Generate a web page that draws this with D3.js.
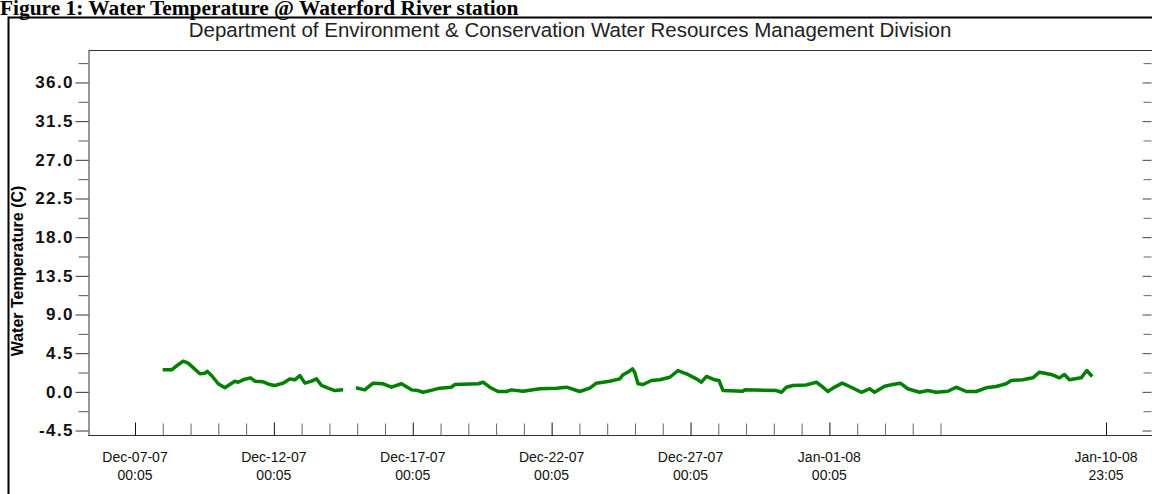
<!DOCTYPE html>
<html>
<head>
<meta charset="utf-8">
<script src="https://cdn.jsdelivr.net/npm/d3@7"></script>
<style>
  body { margin: 0; background: #fff; }
  svg { display: block; }
</style>
</head>
<body>
<script>
// readings taken off the logger plot (time, water temp in C), null = gap in record
const times = [
  "2007-12-08 00:00","2007-12-08 07:40","2007-12-08 10:30","2007-12-08 17:40","2007-12-08 22:00",
  "2007-12-09 08:10","2007-12-09 12:30","2007-12-09 14:30","2007-12-09 18:15","2007-12-10 00:00",
  "2007-12-10 05:45","2007-12-10 10:00","2007-12-10 14:20","2007-12-10 17:10","2007-12-10 21:30",
  "2007-12-11 03:55","2007-12-11 07:40","2007-12-11 14:50","2007-12-11 20:35","2007-12-12 00:55",
  "2007-12-12 08:05","2007-12-12 13:50","2007-12-12 18:10","2007-12-12 22:30","2007-12-13 02:50",
  "2007-12-13 08:35","2007-12-13 12:55","2007-12-13 17:15","2007-12-13 22:55","2007-12-14 04:45",
  "2007-12-14 11:55","2007-12-14 17:00","2007-12-14 22:55","2007-12-15 06:40","2007-12-15 09:30",
  "2007-12-15 13:50","2007-12-15 22:25","2007-12-16 05:40","2007-12-16 14:20","2007-12-16 23:00",
  "2007-12-17 04:40","2007-12-17 09:00","2007-12-17 17:40","2007-12-17 23:25","2007-12-18 09:30",
  "2007-12-18 12:20","2007-12-19 08:30","2007-12-19 12:50","2007-12-19 18:35","2007-12-20 01:45",
  "2007-12-20 09:00","2007-12-20 13:20","2007-12-20 23:20","2007-12-21 13:50","2007-12-22 04:15",
  "2007-12-22 12:55","2007-12-23 00:20","2007-12-23 09:00","2007-12-23 14:45","2007-12-24 02:15",
  "2007-12-24 10:55","2007-12-24 13:45","2007-12-24 18:05","2007-12-24 21:55","2007-12-24 23:50",
  "2007-12-25 02:45","2007-12-25 07:05","2007-12-25 14:20","2007-12-25 21:30","2007-12-26 06:10",
  "2007-12-26 13:15","2007-12-26 20:35","2007-12-27 05:10","2007-12-27 09:30","2007-12-27 13:50",
  "2007-12-27 21:00","2007-12-28 00:40","2007-12-28 04:10","2007-12-28 21:25","2007-12-28 22:50",
  "2007-12-30 02:15","2007-12-30 06:35","2007-12-30 10:55","2007-12-30 16:35","2007-12-31 04:10",
  "2007-12-31 12:50","2007-12-31 18:25","2007-12-31 22:45","2008-01-01 03:05","2008-01-01 11:10",
  "2008-01-01 17:30","2008-01-02 03:40","2008-01-02 10:50","2008-01-02 15:05","2008-01-02 23:45",
  "2008-01-03 06:50","2008-01-03 13:15","2008-01-03 19:50","2008-01-04 05:55","2008-01-04 13:05",
  "2008-01-04 20:20","2008-01-05 06:25","2008-01-05 13:40","2008-01-05 22:20","2008-01-06 06:55",
  "2008-01-06 15:35","2008-01-07 00:10","2008-01-07 08:50","2008-01-07 13:10","2008-01-07 23:10",
  "2008-01-08 07:50","2008-01-08 13:35","2008-01-08 23:40","2008-01-09 06:50","2008-01-09 11:10",
  "2008-01-09 15:30","2008-01-10 01:35","2008-01-10 06:30","2008-01-10 11:10"
];
const temps = [
  2.56, 2.56, 2.86, 3.57, 3.34,
  2.10, 2.17, 2.40, 1.90, 0.94,
  0.47, 0.85, 1.24, 1.12, 1.40,
  1.63, 1.24, 1.17, 0.85, 0.74,
  1.01, 1.51, 1.40, 1.90, 1.01,
  1.24, 1.51, 0.74, 0.43, 0.15,
  0.23, null, 0.47, 0.23, 0.54,
  1.01, 0.94, 0.54, 0.94, 0.23,
  0.15, -0.05, 0.23, 0.43, 0.54,
  0.85, 0.94, 1.12, 0.54, 0.04,
  0.04, 0.23, 0.07, 0.36, 0.43,
  0.54, 0.04, 0.43, 1.01, 1.24,
  1.51, 1.99, 2.29, 2.68, 2.29,
  0.94, 0.85, 1.32, 1.40, 1.70,
  2.48, 2.10, 1.51, 1.12, 1.79,
  1.40, 1.32, 0.15, 0.07, 0.23,
  0.15, -0.05, 0.54, 0.74, 0.81,
  1.12, 0.54, 0.04, 0.43, 1.01,
  0.62, -0.05, 0.36, -0.05, 0.66,
  0.85, 1.01, 0.36, -0.05, 0.15,
  -0.05, 0.07, 0.54, 0.04, 0.04,
  0.47, 0.62, 0.94, 1.32, 1.40,
  1.63, 2.29, 2.02, 1.63, 2.02,
  1.40, 1.63, 2.48, 1.79
];

// x axis ticks
const majorTicks = ["2007-12-07 00:05","2007-12-12 00:05","2007-12-17 00:05","2007-12-22 00:05",
                    "2007-12-27 00:05","2008-01-01 00:05","2008-01-10 23:05"];
const majorDates = ["Dec-07-07","Dec-12-07","Dec-17-07","Dec-22-07","Dec-27-07","Jan-01-08","Jan-10-08"];
const majorClock = ["00:05","00:05","00:05","00:05","00:05","00:05","23:05"];
const minorTicks = ["2007-12-08","2007-12-09","2007-12-10","2007-12-11","2007-12-13","2007-12-14",
                    "2007-12-15","2007-12-16","2007-12-18","2007-12-19","2007-12-20","2007-12-21",
                    "2007-12-23","2007-12-24","2007-12-25","2007-12-26","2007-12-28","2007-12-29",
                    "2007-12-30","2007-12-31","2008-01-02","2008-01-03","2008-01-04","2008-01-05"];

// y axis ticks
const yMajor = [-4.5, 0, 4.5, 9, 13.5, 18, 22.5, 27, 31.5, 36];
const yMinor = [-2.25, 2.25, 6.75, 11.25, 15.75, 20.25, 24.75, 29.25, 33.75, 38.25];

const W = 1152, H = 494;
const plot = { left: 88.5, top: 50.5, right: 1152, bottom: 435.5 };
const parse = d3.timeParse("%Y-%m-%d %H:%M");

const svg = d3.select("body").append("svg")
    .attr("width", W)
    .attr("height", H);

const x = d3.scaleTime()
    .domain([parse(majorTicks[0]), parse(majorTicks[majorTicks.length - 1])])
    .range([135, 1106]);

const y = d3.scaleLinear()
    .domain([-5.08, 39.72])
    .range([plot.bottom, plot.top]);

// page frame + caption
svg.append("rect")
    .attr("x", 8.5).attr("y", 17.5)
    .attr("width", 1400).attr("height", 800)
    .attr("fill", "none").attr("stroke", "#000").attr("stroke-width", 2);

svg.append("text")
    .attr("x", 0).attr("y", 15)
    .attr("font-family", "'Liberation Serif', 'Times New Roman', serif")
    .attr("font-weight", "bold").attr("font-size", 21.4)
    .text("Figure 1: Water Temperature @ Waterford River station");

svg.append("text")
    .attr("x", 570).attr("y", 37)
    .attr("text-anchor", "middle")
    .attr("font-family", "'Liberation Sans', Arial, sans-serif")
    .attr("font-size", 20.5).attr("fill", "#222")
    .text("Department of Environment & Conservation Water Resources Management Division");

// plot borders
svg.append("line")
    .attr("x1", plot.left).attr("x2", plot.right)
    .attr("y1", plot.top).attr("y2", plot.top)
    .attr("stroke", "#333");
svg.append("line")
    .attr("x1", plot.left).attr("x2", plot.right)
    .attr("y1", plot.bottom).attr("y2", plot.bottom)
    .attr("stroke", "#333");

// left axis
const yAxis = svg.append("g")
    .attr("transform", `translate(${plot.left},0)`)
    .call(d3.axisLeft(y).tickValues(yMajor).tickSize(13).tickSizeOuter(0).tickPadding(3)
        .tickFormat(d => d.toFixed(1)));
yAxis.select(".domain").attr("stroke", "#333");
yAxis.selectAll(".tick line").attr("stroke", "#333");
yAxis.selectAll("text")
    .attr("font-family", "'Liberation Sans', Arial, sans-serif")
    .attr("font-weight", "bold").attr("font-size", 17)
    .attr("letter-spacing", "1.4px").attr("dx", "1.4")
    .attr("fill", "#111");

svg.append("g")
    .attr("transform", `translate(${plot.left},0)`)
    .call(d3.axisLeft(y).tickValues(yMinor).tickSize(10).tickFormat(""))
    .call(g => g.select(".domain").remove())
    .selectAll(".tick line").attr("stroke", "#555");

// right side ticks (no labels)
svg.append("g")
    .attr("transform", `translate(${plot.right - 0.5},0)`)
    .call(d3.axisRight(y).tickValues(yMajor).tickSize(-9).tickFormat(""))
    .call(g => g.select(".domain").remove())
    .selectAll(".tick line").attr("stroke", "#444");
svg.append("g")
    .attr("transform", `translate(${plot.right - 0.5},0)`)
    .call(d3.axisRight(y).tickValues(yMinor).tickSize(-8).tickFormat(""))
    .call(g => g.select(".domain").remove())
    .selectAll(".tick line").attr("stroke", "#666");

// bottom ticks pointing up into the plot
svg.append("g")
    .attr("transform", `translate(0,${plot.bottom})`)
    .call(d3.axisBottom(x).tickValues(majorTicks.map(parse)).tickSize(-13).tickFormat(""))
    .call(g => g.select(".domain").remove())
    .selectAll(".tick line").attr("stroke", "#111");
svg.append("g")
    .attr("transform", `translate(0,${plot.bottom})`)
    .call(d3.axisBottom(x).tickValues(minorTicks.map(s => parse(s + " 00:05"))).tickSize(-12).tickFormat(""))
    .call(g => g.select(".domain").remove())
    .selectAll(".tick line").attr("stroke", "#666");

// two-line date labels
const xl = svg.append("g")
    .attr("font-family", "'Liberation Sans', Arial, sans-serif")
    .attr("font-size", 14).attr("fill", "#111")
    .attr("text-anchor", "middle");
xl.selectAll("text.d").data(majorTicks).enter().append("text")
    .attr("class", "d")
    .attr("x", d => x(parse(d)))
    .attr("y", 462)
    .text((d, i) => majorDates[i]);
xl.selectAll("text.c").data(majorTicks).enter().append("text")
    .attr("class", "c")
    .attr("x", d => x(parse(d)))
    .attr("y", 480)
    .text((d, i) => majorClock[i]);

// y title
svg.append("text")
    .attr("transform", "translate(23,271) rotate(-90)")
    .attr("text-anchor", "middle")
    .attr("font-family", "'Liberation Sans', Arial, sans-serif")
    .attr("font-weight", "bold").attr("font-size", 16)
    .text("Water Temperature (C)");

// temperature trace
const data = times.map((t, i) => ({ t: parse(t), v: temps[i] }));
const line = d3.line()
    .defined(d => d.v !== null)
    .x(d => x(d.t))
    .y(d => y(d.v));

svg.append("path")
    .datum(data)
    .attr("d", line)
    .attr("fill", "none")
    .attr("stroke", "#008000")
    .attr("stroke-width", 3.5)
    .attr("stroke-linejoin", "round");
</script>
</body>
</html>
